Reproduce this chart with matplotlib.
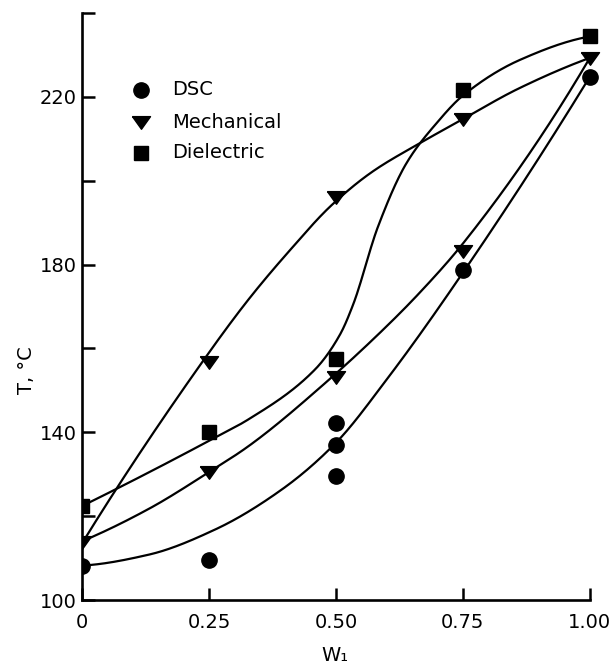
import numpy as np
import matplotlib
matplotlib.use("Agg")
import matplotlib.pyplot as plt

# ---- measured transition temperatures vs. weight fraction W1 ----
dsc_w = [0.0, 0.25, 0.50, 0.50, 0.50, 0.75, 1.00]
dsc_t = [108.2, 109.5, 142.1, 137.0, 129.5, 178.8, 224.8]

mech_w = [0.0, 0.25, 0.25, 0.50, 0.50, 0.75, 0.75, 1.00]
mech_t = [113.8, 156.7, 130.5, 196.0, 153.3, 214.8, 183.2, 229.3]

diel_w = [0.0, 0.25, 0.50, 0.75, 1.00]
diel_t = [122.4, 140.0, 157.4, 221.7, 234.4]

# ---- hand-drawn trend curves (knots along each curve) ----
dsc_curve_w = [0.0, 0.131, 0.262, 0.394, 0.50, 0.60, 0.744, 1.00]
dsc_curve_t = [108.2, 110.8, 116.8, 126.4, 137.5, 152.6, 177.0, 224.8]

mech_lo_curve_w = [0.0, 0.131, 0.25, 0.328, 0.486, 0.60, 0.665, 0.75, 1.00]
mech_lo_curve_t = [114.0, 121.7, 130.5, 136.7, 152.5, 165.3, 173.3, 185.0, 229.3]

mech_hi_curve_w = [0.0, 0.25, 0.33, 0.41, 0.49, 0.57, 0.66, 0.74, 0.86, 1.00]
mech_hi_curve_t = [113.5, 159.0, 172.0, 183.5, 194.0, 202.0, 208.6, 214.0,
                   222.0, 229.3]

diel_curve_w = [0.0, 0.131, 0.249, 0.328, 0.459, 0.508, 0.534, 0.583,
                0.639, 0.698, 0.75, 0.862, 1.00]
diel_curve_t = [122.4, 130.4, 137.9, 143.1, 155.0, 163.3, 170.5, 189.1,
                204.2, 213.7, 220.3, 228.8, 234.4]

x_ticks = [0.0, 0.25, 0.50, 0.75, 1.00]
x_tick_labels = ["0", "0.25", "0.50", "0.75", "1.00"]
y_major = [100, 140, 180, 220]
y_minor = [120, 160, 200, 240]

legend_labels = ["DSC", "Mechanical", "Dielectric"]


def pchip(x, y, xs):
    """Shape-preserving piecewise cubic Hermite curve through (x, y)."""
    x = np.asarray(x, float)
    y = np.asarray(y, float)
    h = np.diff(x)
    d = np.diff(y) / h
    n = len(x)
    m = np.zeros(n)
    for k in range(1, n - 1):
        if d[k - 1] * d[k] > 0:
            w1 = 2 * h[k] + h[k - 1]
            w2 = h[k] + 2 * h[k - 1]
            m[k] = (w1 + w2) / (w1 / d[k - 1] + w2 / d[k])

    def end_slope(h0, h1, d0, d1):
        s = ((2 * h0 + h1) * d0 - h0 * d1) / (h0 + h1)
        if np.sign(s) != np.sign(d0):
            s = 0.0
        elif np.sign(d0) != np.sign(d1) and abs(s) > abs(3 * d0):
            s = 3 * d0
        return s

    m[0] = end_slope(h[0], h[1], d[0], d[1])
    m[-1] = end_slope(h[-1], h[-2], d[-1], d[-2])

    xs = np.asarray(xs, float)
    idx = np.clip(np.searchsorted(x, xs) - 1, 0, n - 2)
    t = (xs - x[idx]) / h[idx]
    h00 = 2 * t**3 - 3 * t**2 + 1
    h10 = t**3 - 2 * t**2 + t
    h01 = -2 * t**3 + 3 * t**2
    h11 = t**3 - t**2
    return (h00 * y[idx] + h10 * h[idx] * m[idx]
            + h01 * y[idx + 1] + h11 * h[idx] * m[idx + 1])


plt.rcParams["font.family"] = ["DejaVu Sans"]

fig = plt.figure(figsize=(6.13, 6.69), dpi=100)
ax = fig.add_axes([82 / 613, 1 - 600 / 669, 518 / 613, 587 / 669])
ax.set_xlim(0.0, 1.02)
ax.set_ylim(100, 240)

# trend curves
line_kw = dict(color="black", lw=1.6, solid_capstyle="round")
for cw, ct in [(dsc_curve_w, dsc_curve_t),
               (mech_lo_curve_w, mech_lo_curve_t),
               (mech_hi_curve_w, mech_hi_curve_t),
               (diel_curve_w, diel_curve_t)]:
    xs = np.linspace(cw[0], cw[-1], 400)
    ax.plot(xs, pchip(cw, ct, xs), **line_kw)

# markers
tri = [(-1.0, 0.65), (1.0, 0.65), (0.0, -0.75), (-1.0, 0.65)]
ax.plot(dsc_w, dsc_t, ls="none", marker="o", ms=11, color="black")
ax.plot(mech_w, mech_t, ls="none", marker=tri, ms=13, color="black")
ax.plot(diel_w, diel_t, ls="none", marker="s", ms=10.5, color="black")

# key
key_markers = ["o", tri, "s"]
key_sizes = [11, 13, 10.5]
key_y = [0.869, 0.814, 0.7615]
for mk, sz, ky, lab in zip(key_markers, key_sizes, key_y, legend_labels):
    ax.plot([0.114], [ky], transform=ax.transAxes, ls="none",
            marker=mk, ms=sz, color="black", clip_on=False)
    ax.text(0.174, ky, lab, transform=ax.transAxes, fontsize=14,
            va="center", ha="left")

# axes styling
for side in ["top", "right"]:
    ax.spines[side].set_visible(False)
for side in ["left", "bottom"]:
    ax.spines[side].set_linewidth(1.9)
ax.spines["bottom"].set_bounds(0.0, 1.0)

ax.set_xticks(x_ticks)
ax.set_xticklabels(x_tick_labels)
ax.set_yticks(y_major)
ax.set_yticks(y_minor, minor=True)
ax.tick_params(axis="both", which="both", direction="in", length=9,
               width=1.8, labelsize=14)
ax.tick_params(axis="x", pad=9)
ax.tick_params(axis="y", pad=4)

ax.set_ylabel("T, °C", fontsize=14)
ax.yaxis.set_label_coords(-0.088, 0.392)
ax.set_xlabel("W₁", fontsize=14)
ax.xaxis.set_label_coords(0.488, -0.078)

fig.savefig("out.png", dpi=100)
